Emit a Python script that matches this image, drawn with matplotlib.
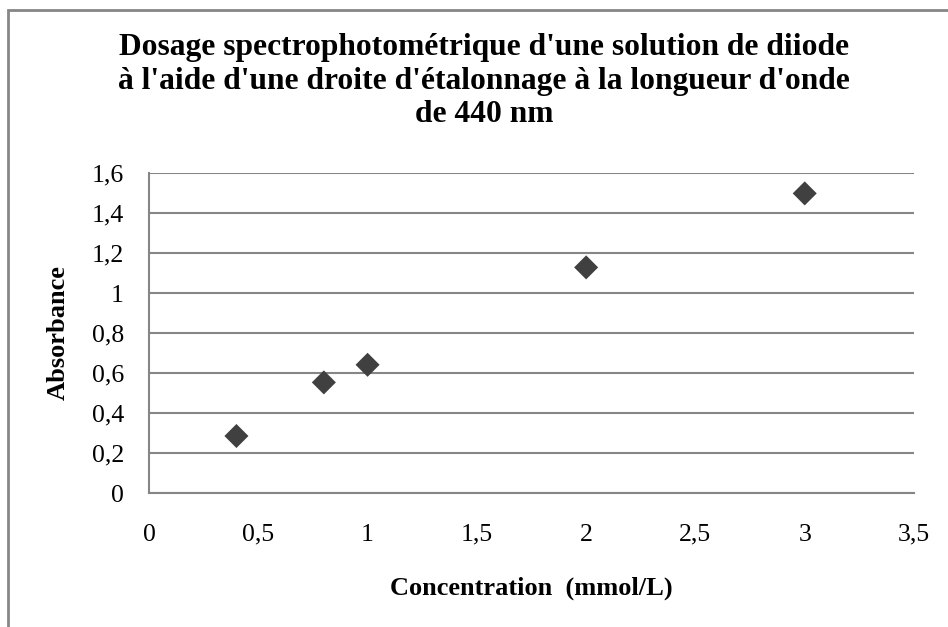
import matplotlib.pyplot as plt
from matplotlib.patches import Rectangle

# Data
concentration = [0.4, 0.8, 1.0, 2.0, 3.0]
absorbance = [0.285, 0.553, 0.641, 1.128, 1.498]
x_ticks = [0, 0.5, 1, 1.5, 2, 2.5, 3, 3.5]
y_ticks = [0, 0.2, 0.4, 0.6, 0.8, 1.0, 1.2, 1.4, 1.6]

plt.rcParams['font.family'] = ['Liberation Serif', 'DejaVu Serif']

W, H = 948, 627
fig = plt.figure(figsize=(W / 100, H / 100), dpi=100)
ax = fig.add_axes([149 / W, 1 - 493 / H, (914 - 149) / W, (493 - 173) / H])

grey = '#868686'
ax.scatter(concentration, absorbance, marker='D', s=150, color='#404040',
           edgecolors='none', zorder=3)

ax.set_xlim(0, 3.5)
ax.set_ylim(0, 1.6)
ax.set_xticks(x_ticks)
ax.set_yticks(y_ticks)
fmt = lambda v: ('%g' % v).replace('.', ',')
ax.set_xticklabels([fmt(v) for v in x_ticks], fontsize=18.5)
ax.set_yticklabels([fmt(v) for v in y_ticks], fontsize=18.5)
ax.tick_params(length=0)
ax.tick_params(axis='x', pad=22)
ax.tick_params(axis='y', pad=18)

ax.grid(axis='y', color=grey, linewidth=1.5)
ax.set_axisbelow(True)
for side in ['top', 'right']:
    ax.spines[side].set_visible(False)
for side in ['left', 'bottom']:
    ax.spines[side].set_color(grey)
    ax.spines[side].set_linewidth(1.5)

ax.set_xlabel('Concentration  (mmol/L)', fontsize=19, fontweight='bold', va='center')
ax.set_ylabel('Absorbance', fontsize=19, fontweight='bold', va='center')
ax.xaxis.set_label_coords(0.5, (493 - 588) / 320)
ax.yaxis.set_label_coords((58 - 149) / 765, 0.5)

fig.text(484 / W, 1 - 81 / H,
         "Dosage spectrophotométrique d'une solution de diiode\n"
         "à l'aide d'une droite d'étalonnage à la longueur d'onde\n"
         "de 440 nm",
         ha='center', va='center', fontsize=22.7, fontweight='bold', linespacing=1.2)

# chart border (cut off at right and bottom as in the original)
fig.patches.append(Rectangle((8 / W, -0.1), 1.2, 1 - 10 / H + 0.1,
                             transform=fig.transFigure, fill=False,
                             edgecolor=grey, linewidth=2))

fig.savefig('out.png', dpi=100)
